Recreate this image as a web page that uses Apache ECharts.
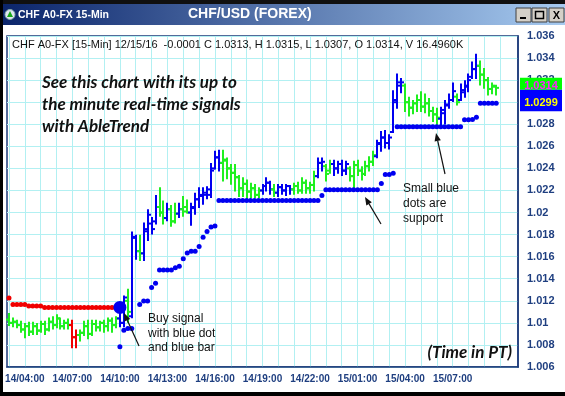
<!DOCTYPE html>
<html><head><meta charset="utf-8">
<script src="https://cdn.jsdelivr.net/npm/echarts@6/dist/echarts.min.js"></script>
<style>html,body{margin:0;padding:0;background:#fff;overflow:hidden}#c{width:565px;height:396px}</style>
</head><body><div id="c"></div><script>
// ---- time axis: 15-minute bars starting 14/03:00 ----
const startDay = 14, startHour = 3, stepMin = 15, barCount = 129;
const tickLabels = ['14/04:00','14/07:00','14/10:00','14/13:00','14/16:00','14/19:00','14/22:00','15/01:00','15/04:00','15/07:00'];
const categories = [];
for (let k = 0; k < barCount; k++) {
  const m = startHour * 60 + k * stepMin;
  const d = startDay + Math.floor(m / 1440);
  const hh = Math.floor((m % 1440) / 60), mm = m % 60;
  categories.push(d + '/' + String(hh).padStart(2, '0') + ':' + String(mm).padStart(2, '0'));
}

// ---- OHLC bars ----
const opens = [1.0103,1.0100,1.0101,1.0098,1.0094,1.0097,1.0092,1.0097,1.0093,1.0099,1.0094,1.0101,1.0098,1.0104,1.0097,1.0100,1.0098,1.0087,1.0089,1.0091,1.0097,1.0090,1.0099,1.0096,1.0100,1.0097,1.0102,1.0098,
1.0104,1.0100,1.0120,1.0106,1.0178,1.0165,1.0163,1.0183,1.0190,1.0192,1.0205,1.0200,1.0195,1.0203,1.0192,1.0199,1.0203,1.0205,1.0200,1.0204,1.0212,1.0215,1.0216,1.0216,1.0240,1.0250,1.0245,1.0247,1.0240,1.0236,1.0232,1.0222,1.0226,1.0219,
1.0222,1.0216,1.0220,1.0224,1.0227,1.0221,1.0218,1.0223,1.0220,1.0224,1.0221,1.0224,1.0220,1.0227,1.0222,1.0225,1.0233,1.0245,1.0242,1.0238,1.0244,1.0240,1.0244,1.0238,1.0240,1.0233,1.0243,1.0238,1.0235,1.0242,1.0246,
1.0251,1.0262,1.0268,1.0263,1.0273,1.0302,1.0315,1.0315,1.0300,1.0295,1.0299,1.0302,1.0296,1.0299,1.0292,1.0289,1.0285,1.0290,1.0297,1.0302,1.0305,1.0302,1.0309,1.0314,1.0323,1.0330,1.0333,1.0325,1.0320,1.0312,1.0314];
const highs = [1.0108,1.0104,1.0102,1.0101,1.0099,1.0100,1.0100,1.0099,1.0101,1.0101,1.0104,1.0105,1.0107,1.0104,1.0102,1.0103,1.0102,1.0093,1.0093,1.0101,1.0102,1.0102,1.0102,1.0101,1.0102,1.0104,1.0104,1.0105,
1.0110,1.0124,1.0130,1.0182,1.0179,1.0179,1.0190,1.0202,1.0195,1.0215,1.0222,1.0210,1.0208,1.0206,1.0208,1.0208,1.0214,1.0211,1.0208,1.0217,1.0222,1.0222,1.0223,1.0244,1.0255,1.0256,1.0256,1.0249,1.0243,1.0243,1.0233,1.0231,1.0229,1.0226,
1.0225,1.0222,1.0225,1.0231,1.0228,1.0225,1.0225,1.0225,1.0225,1.0224,1.0226,1.0227,1.0231,1.0229,1.0227,1.0237,1.0249,1.0249,1.0243,1.0247,1.0247,1.0246,1.0247,1.0246,1.0241,1.0246,1.0247,1.0241,1.0246,1.0250,1.0255,
1.0265,1.0273,1.0274,1.0270,1.0310,1.0325,1.0321,1.0316,1.0304,1.0301,1.0306,1.0309,1.0307,1.0303,1.0295,1.0294,1.0295,1.0301,1.0307,1.0317,1.0307,1.0316,1.0319,1.0325,1.0336,1.0343,1.0337,1.0330,1.0322,1.0317,1.0315];
const lows = [1.0098,1.0097,1.0096,1.0092,1.0087,1.0089,1.0090,1.0090,1.0092,1.0090,1.0093,1.0095,1.0096,1.0095,1.0095,1.0095,1.0078,1.0078,1.0084,1.0089,1.0086,1.0089,1.0093,1.0093,1.0092,1.0093,1.0092,1.0096,
1.0097,1.0097,1.0101,1.0105,1.0158,1.0157,1.0157,1.0175,1.0181,1.0190,1.0197,1.0190,1.0193,1.0188,1.0191,1.0196,1.0197,1.0200,1.0189,1.0199,1.0205,1.0208,1.0213,1.0214,1.0240,1.0238,1.0229,1.0231,1.0226,1.0220,1.0215,1.0215,1.0211,1.0214,
1.0214,1.0214,1.0217,1.0220,1.0217,1.0215,1.0215,1.0217,1.0216,1.0217,1.0217,1.0218,1.0218,1.0218,1.0218,1.0220,1.0232,1.0238,1.0229,1.0236,1.0234,1.0236,1.0234,1.0235,1.0229,1.0222,1.0234,1.0230,1.0234,1.0238,1.0243,
1.0250,1.0256,1.0259,1.0258,1.0273,1.0295,1.0309,1.0292,1.0288,1.0290,1.0292,1.0292,1.0291,1.0288,1.0283,1.0280,1.0280,1.0281,1.0295,1.0301,1.0298,1.0302,1.0305,1.0310,1.0322,1.0322,1.0316,1.0313,1.0307,1.0308,1.0307];
const closes = [1.0100,1.0101,1.0098,1.0094,1.0097,1.0092,1.0097,1.0093,1.0099,1.0094,1.0101,1.0098,1.0104,1.0097,1.0100,1.0098,1.0087,1.0089,1.0091,1.0097,1.0090,1.0099,1.0096,1.0100,1.0097,1.0102,1.0098,1.0104,
1.0100,1.0123,1.0110,1.0177,1.0165,1.0163,1.0185,1.0198,1.0185,1.0205,1.0200,1.0195,1.0203,1.0192,1.0199,1.0203,1.0201,1.0200,1.0205,1.0212,1.0216,1.0218,1.0221,1.0238,1.0250,1.0245,1.0248,1.0240,1.0236,1.0232,1.0222,1.0226,1.0219,1.0222,
1.0216,1.0220,1.0224,1.0227,1.0221,1.0218,1.0223,1.0220,1.0224,1.0221,1.0224,1.0220,1.0227,1.0222,1.0225,1.0233,1.0245,1.0246,1.0235,1.0244,1.0240,1.0244,1.0238,1.0244,1.0233,1.0243,1.0238,1.0235,1.0242,1.0246,1.0252,
1.0263,1.0268,1.0263,1.0268,1.0300,1.0318,1.0318,1.0300,1.0295,1.0299,1.0302,1.0296,1.0299,1.0292,1.0289,1.0286,1.0293,1.0298,1.0302,1.0310,1.0300,1.0311,1.0315,1.0320,1.0330,1.0333,1.0325,1.0320,1.0312,1.0315,1.0313];
// trend colour of each bar: g = green, b = blue (up-trend), r = red (down-trend)
const barColors = ('gggggggggggggggg' + 'rr' + 'gggggggggg' + 'bb' + 'g' + 'bb' + 'g' + 'bbbb' + 'gg' + 'b' + 'gg' + 'b' + 'gg' + 'bbbbbbbb' +
  'gggggggggg' + 'bbb' + 'g' + 'bbbb' + 'gggggg' + 'bb' + 'gg' + 'bbbb' + 'ggggggg' + 'bbbbbbb' + 'ggggggggg' + 'bbbb' + 'g' + 'bbbbb' + 'ggggg').split('');

// ---- stop dots ----
const resistanceDots = [1.01226,1.01167,1.01167,1.01167,1.01167,1.01154,1.01154,1.01154,1.01154,
1.01139,1.01139,1.01139,1.01139,1.01139,1.01139,1.01139,1.01139,1.01139,1.01139,1.01139,1.01139,1.01139,1.01139,1.01139,1.01139,1.01139,1.01139,1.01139];
const supportDots = [null,null,null,null,null,null,null,null,null,null,null,null,null,null,null,null,null,null,null,null,null,null,null,null,null,null,null,null,
1.00783,1.00934,1.00949,1.00949,null,1.01167,1.01199,1.01199,1.0132,1.0136,1.01479,1.01479,1.01479,1.01479,1.0150,1.01513,1.01582,1.01633,1.01648,1.01648,1.01693,1.01777,1.01829,1.01868,1.01877,
1.02109,1.02109,1.02109,1.02109,1.02109,1.02109,1.02109,1.02109,1.02109,1.02109,1.02109,1.02109,1.02109,1.02109,1.02109,1.02109,1.02109,1.02109,1.02109,1.02109,1.02109,1.02109,1.02109,1.02109,1.02109,1.02109,
1.02154,1.02206,1.02206,1.02206,1.02206,1.02206,1.02206,1.02206,1.02206,1.02206,1.02206,1.02206,1.02206,1.02206,1.02206,
1.02264,1.02344,1.02344,1.02356,
1.02778,1.02778,1.02778,1.02778,1.02778,1.02778,1.02778,1.02778,1.02778,1.02778,1.02778,1.02778,1.02778,1.02778,1.02778,1.02778,1.02778,
1.02841,1.02841,1.02844,1.02864,1.0299,1.0299,1.0299,1.0299,1.0299];
const buySignal = [[28, 1.0114]];
const priceTags = [1.0314, 1.0299];

const colorMap = { g: '#1ff01f', b: '#0000f0', r: '#f00000' };
const navy = '#1b3a7a';

const ohlcData = opens.map((o, i) => [i, o, highs[i], lows[i], closes[i]]);

function renderOHLC(params, api) {
  const i = api.value(0);
  const o = api.coord([i, api.value(1)]);
  const h = api.coord([i, api.value(2)]);
  const l = api.coord([i, api.value(3)]);
  const c = api.coord([i, api.value(4)]);
  const x = Math.round(h[0]);
  const st = { stroke: colorMap[barColors[params.dataIndex]], lineWidth: 2 };
  return { type: 'group', children: [
    { type: 'line', shape: { x1: x, y1: h[1] - 1, x2: x, y2: l[1] + 1 }, style: st },
    { type: 'line', shape: { x1: x - 3, y1: o[1], x2: x, y2: o[1] }, style: st },
    { type: 'line', shape: { x1: x, y1: c[1], x2: x + 3, y2: c[1] }, style: st }
  ]};
}

const hourTick = (i) => i % 4 === 0 && i <= 124;

function arrow(x1, y1, x2, y2) {
  const a = Math.atan2(y2 - y1, x2 - x1), L = 8, W = 3.2;
  const bx = x2 - L * Math.cos(a), by = y2 - L * Math.sin(a);
  const px = -Math.sin(a) * W, py = Math.cos(a) * W;
  return [
    { type: 'line', shape: { x1, y1, x2: bx, y2: by }, style: { stroke: '#111', lineWidth: 1.2 }, z: 50 },
    { type: 'polygon', shape: { points: [[x2, y2], [bx + px, by + py], [bx - px, by - py]] }, style: { fill: '#111' }, z: 50 }
  ];
}
const txt = (x, y, s, font, fill, align) => ({ type: 'text', x, y, style: { text: s, font, fill: fill || '#111', textAlign: align || 'left', textVerticalAlign: 'middle' }, z: 50 });
const italicFont = 'italic bold 17px Lato, "Open Sans", sans-serif';
const noteFont = '12px "Liberation Sans", Arial, sans-serif';

const chart = echarts.init(document.getElementById('c'), null, { renderer: 'canvas' });
const option = {
  animation: false,
  backgroundColor: '#ffffff',
  grid: { left: 7, right: 47, top: 36, bottom: 29, show: true, borderColor: navy, borderWidth: 1.5, backgroundColor: '#fff' },
  xAxis: {
    type: 'category', data: categories, boundaryGap: true,
    axisLine: { lineStyle: { color: navy, width: 1.5 } },
    axisTick: { alignWithLabel: true, interval: hourTick, length: 5, lineStyle: { color: navy, width: 1.5 } },
    axisLabel: { interval: (i, v) => tickLabels.includes(v), color: '#1f3f80', fontWeight: 'bold', fontSize: 10, fontFamily: '"Liberation Sans", Arial', margin: 7 },
    splitLine: { show: true, alignWithLabel: true, interval: hourTick, lineStyle: { color: '#b2f0f2', width: 1 } }
  },
  yAxis: {
    type: 'value', position: 'right', min: 1.006, max: 1.036, interval: 0.002,
    axisLine: { show: true, lineStyle: { color: navy, width: 1.5 } },
    axisTick: { show: false },
    axisLabel: { color: '#1f3f80', fontWeight: 'bold', fontSize: 11, fontFamily: '"Liberation Sans", Arial', margin: 9 },
    splitLine: { show: true, lineStyle: { color: '#b2f0f2', width: 1 } }
  },
  series: [
    { type: 'custom', renderItem: renderOHLC, data: ohlcData, encode: { x: 0, y: [1, 2, 3, 4] }, z: 2 },
    { type: 'scatter', data: resistanceDots, symbol: 'circle', symbolSize: 5, itemStyle: { color: colorMap.r, opacity: 1 }, z: 3 },
    { type: 'scatter', data: supportDots, symbol: 'circle', symbolSize: 5, itemStyle: { color: colorMap.b, opacity: 1 }, z: 3 },
    { type: 'scatter', data: buySignal, symbol: 'circle', symbolSize: 13, itemStyle: { color: colorMap.b, opacity: 1 }, z: 4 }
  ]
};
chart.setOption(option);

const yG = chart.convertToPixel({ yAxisIndex: 0 }, priceTags[0]);
const yB = chart.convertToPixel({ yAxisIndex: 0 }, priceTags[1]);
const graphics = [
  // window chrome
  { type: 'rect', shape: { x: 0, y: 0, width: 565, height: 4 }, style: { fill: '#101010' }, z: 40 },
  { type: 'rect', shape: { x: 0, y: 4, width: 565, height: 21 }, style: { fill: new echarts.graphic.LinearGradient(0, 0, 1, 0, [{ offset: 0, color: '#0a246a' }, { offset: 1, color: '#a6caf0' }]) }, z: 40 },
  { type: 'rect', shape: { x: 0, y: 0, width: 3, height: 396 }, style: { fill: '#000' }, z: 41 },
  { type: 'rect', shape: { x: 0, y: 392, width: 565, height: 4 }, style: { fill: '#000' }, z: 41 },
  { type: 'circle', shape: { cx: 10, cy: 14.5, r: 5 }, style: { fill: '#dfe6f0', stroke: '#8aa', lineWidth: 1 }, z: 42 },
  { type: 'polygon', shape: { points: [[10, 11], [13, 17], [7, 17]] }, style: { fill: '#18a818' }, z: 43 },
  txt(18, 15, 'CHF A0-FX 15-Min', 'bold 10.5px "Liberation Sans", Arial', '#ffffff'),
  txt(188, 14.5, 'CHF/USD (FOREX)', 'bold 14px "Liberation Sans", Arial', '#ffffff'),
  { type: 'rect', shape: { x: 516, y: 8, width: 15, height: 14 }, style: { fill: '#d4d0c8', stroke: '#404040', lineWidth: 1 }, z: 42 },
  { type: 'rect', shape: { x: 532, y: 8, width: 15, height: 14 }, style: { fill: '#d4d0c8', stroke: '#404040', lineWidth: 1 }, z: 42 },
  { type: 'rect', shape: { x: 549, y: 8, width: 15, height: 14 }, style: { fill: '#d4d0c8', stroke: '#404040', lineWidth: 1 }, z: 42 },
  { type: 'rect', shape: { x: 520, y: 17, width: 6, height: 2 }, style: { fill: '#000' }, z: 43 },
  { type: 'rect', shape: { x: 535.5, y: 11.5, width: 8, height: 7 }, style: { fill: 'none', stroke: '#000', lineWidth: 1.5 }, z: 43 },
  txt(556.5, 15.5, 'X', 'bold 11px "Liberation Sans", Arial', '#000', 'center'),
  // texts in plot
  txt(12, 45, 'CHF A0-FX [15-Min] 12/15/16  -0.0001 C 1.0313, H 1.0315, L 1.0307, O 1.0314, V 16.4960K', '11px "Liberation Sans", Arial', '#111'),
  txt(42, 83, 'See this chart with its up to', italicFont),
  txt(42, 105, 'the minute real-time signals', italicFont),
  txt(42, 127, 'with AbleTrend', italicFont),
  txt(512, 353, '(Time in PT)', italicFont, '#111', 'right'),
  txt(148, 319, 'Buy signal', noteFont),
  txt(148, 333.5, 'with blue dot', noteFont),
  txt(148, 348, 'and blue bar', noteFont),
  txt(403, 188.5, 'Small blue', noteFont),
  txt(403, 203.5, 'dots are', noteFont),
  txt(403, 218.5, 'support', noteFont),
  ...arrow(139, 346, 124, 313),
  ...arrow(381, 224, 365, 197),
  ...arrow(445, 174, 436, 133),
  // price tags
  { type: 'rect', shape: { x: 520, y: yG - 9, width: 42, height: 12 }, style: { fill: '#00ff00' }, z: 45 },
  { type: 'rect', shape: { x: 520, y: yG + 3, width: 42, height: yB - yG + 5 }, style: { fill: '#0000ff' }, z: 45 },
  txt(541, yG - 0.5, priceTags[0].toFixed(4), 'bold 11px "Liberation Sans", Arial', '#ff22ff', 'center'),
  txt(541, yB - 0.5, priceTags[1].toFixed(4), 'bold 11px "Liberation Sans", Arial', '#ffff00', 'center')
];
chart.setOption({ graphic: graphics });
</script></body></html>
